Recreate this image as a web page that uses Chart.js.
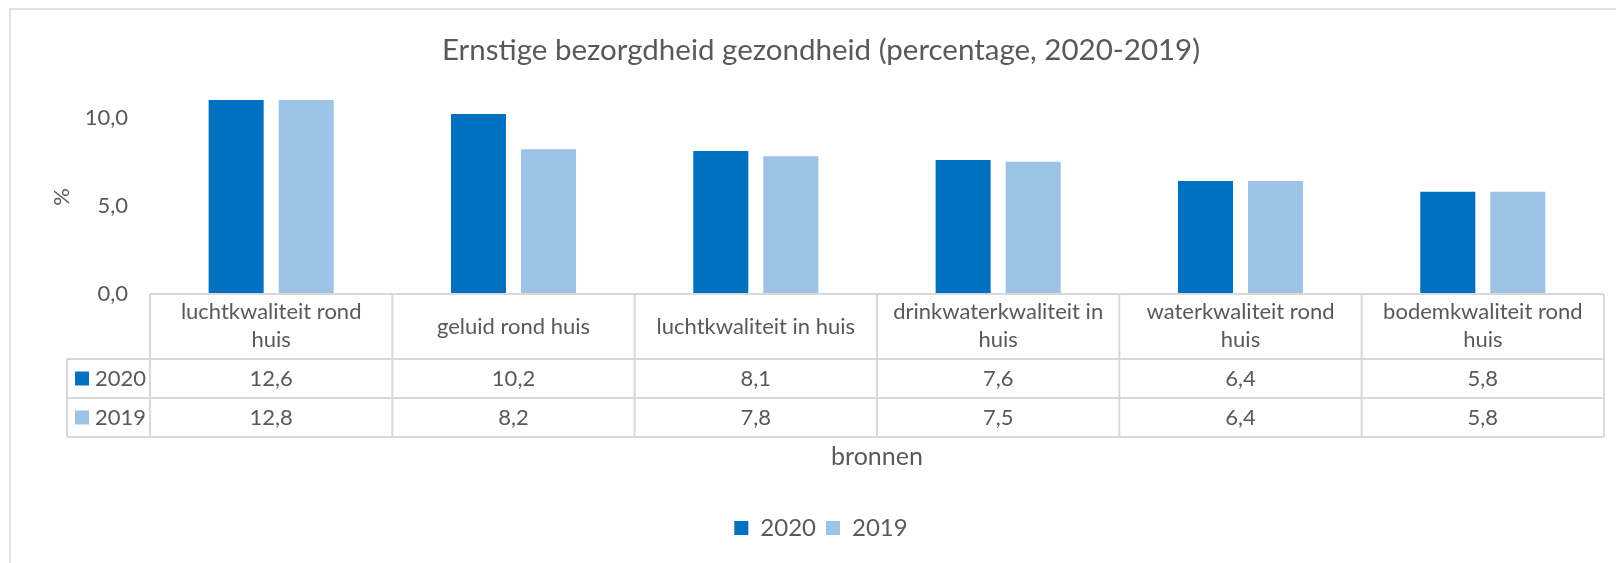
<!DOCTYPE html>
<html lang="nl">
<head>
<meta charset="UTF-8">
<title>Ernstige bezorgdheid gezondheid</title>
<script src="https://cdn.jsdelivr.net/npm/chart.js"></script>
<style>
  html, body { margin: 0; padding: 0; background: #fff; }
  canvas { display: block; }
</style>
</head>
<body>
<canvas id="grafiek" width="1616" height="563"></canvas>

<script>
// gegevens
const categorieen = [
    ['luchtkwaliteit rond', 'huis'],
    ['geluid rond huis'],
    ['luchtkwaliteit in huis'],
    ['drinkwaterkwaliteit in', 'huis'],
    ['waterkwaliteit rond', 'huis'],
    ['bodemkwaliteit rond', 'huis']
];
const jaren = ['2020', '2019'];
const waarden2020 = [12.6, 10.2, 8.1, 7.6, 6.4, 5.8];
const waarden2019 = [12.8, 8.2, 7.8, 7.5, 6.4, 5.8];
const yTicks = [0, 5, 10];
const yMax = 11;

const kleuren = ['#0070C0', '#9DC3E6'];
const tekstKleur = '#595959';
const lijnKleur = '#d9d9d9';
const lettertype = 'Lato, "Liberation Sans", sans-serif';

function komma(v) {
    return Number(v).toFixed(1).replace('.', ',');
}

// tekent de gegevenstabel onder de grafiek + de kaderlijnen
const tabelPlugin = {
    id: 'gegevenstabel',
    beforeDraw(chart) {
        const ctx = chart.ctx;
        ctx.save();
        ctx.strokeStyle = lijnKleur;
        ctx.lineWidth = 1.5;
        ctx.beginPath();
        ctx.moveTo(10, chart.height);
        ctx.lineTo(10, 9);
        ctx.lineTo(chart.width, 9);
        ctx.stroke();
        ctx.restore();
    },
    afterDraw(chart) {
        const { ctx, chartArea } = chart;
        const x = chart.scales.x;
        const n = chart.data.labels.length;
        const breedte = (x.right - x.left) / n;
        const kopTop = chartArea.bottom;
        const kopH = 65;
        const rijH = 39;
        const legLinks = 67;
        const onder = kopTop + kopH + rijH * chart.data.datasets.length;

        ctx.save();
        ctx.strokeStyle = lijnKleur;
        ctx.lineWidth = 2;
        ctx.beginPath();
        ctx.moveTo(x.left, kopTop);
        ctx.lineTo(x.right, kopTop);
        for (let r = 0; r <= chart.data.datasets.length; r++) {
            const y = kopTop + kopH + r * rijH;
            ctx.moveTo(legLinks, y);
            ctx.lineTo(x.right, y);
        }
        for (let i = 0; i <= n; i++) {
            const xx = x.left + i * breedte;
            ctx.moveTo(xx, kopTop);
            ctx.lineTo(xx, onder);
        }
        ctx.moveTo(legLinks, kopTop + kopH);
        ctx.lineTo(legLinks, onder);
        ctx.stroke();

        ctx.fillStyle = tekstKleur;
        ctx.font = '22px ' + lettertype;
        ctx.textAlign = 'center';
        ctx.textBaseline = 'middle';

        chart.data.labels.forEach((label, i) => {
            const cx = x.getPixelForValue(i);
            const regels = Array.isArray(label) ? label : [label];
            if (regels.length === 1) {
                ctx.fillText(regels[0], cx, kopTop + kopH / 2);
            } else {
                ctx.fillText(regels[0], cx, kopTop + 18);
                ctx.fillText(regels[1], cx, kopTop + 46);
            }
        });

        chart.data.datasets.forEach((ds, r) => {
            const cy = kopTop + kopH + r * rijH + rijH / 2;
            ctx.fillStyle = ds.backgroundColor;
            ctx.fillRect(75, cy - 7, 14, 14);
            ctx.fillStyle = tekstKleur;
            ctx.textAlign = 'left';
            ctx.fillText(ds.label, 95, cy);
            ctx.textAlign = 'center';
            ds.data.forEach((v, i) => {
                ctx.fillText(komma(v), x.getPixelForValue(i), cy);
            });
        });
        ctx.restore();
    }
};

const config = {
    type: 'bar',
    data: {
        labels: categorieen,
        datasets: [
            {
                label: jaren[0],
                data: waarden2020,
                backgroundColor: kleuren[0],
                borderWidth: 0,
                categoryPercentage: 0.578,
                barPercentage: 0.786
            },
            {
                label: jaren[1],
                data: waarden2019,
                backgroundColor: kleuren[1],
                borderWidth: 0,
                categoryPercentage: 0.578,
                barPercentage: 0.786
            }
        ]
    },
    options: {
        responsive: false,
        animation: false,
        layout: {
            padding: { top: 0, left: 38, right: 12, bottom: 13 }
        },
        plugins: {
            title: {
                display: true,
                text: 'Ernstige bezorgdheid gezondheid (percentage, 2020-2019)',
                color: tekstKleur,
                font: { family: lettertype, size: 29.5, weight: 'normal' },
                padding: { top: 33, bottom: 31.5 }
            },
            legend: {
                position: 'bottom',
                labels: {
                    boxWidth: 14,
                    boxHeight: 14,
                    padding: 10,
                    color: tekstKleur,
                    font: { family: lettertype, size: 24 }
                }
            },
            tooltip: { enabled: false }
        },
        scales: {
            x: {
                grid: { display: false, drawTicks: false },
                border: { display: false },
                ticks: { display: false },
                title: {
                    display: true,
                    text: 'bronnen',
                    color: tekstKleur,
                    font: { family: lettertype, size: 25 },
                    padding: { top: 0, bottom: 34 }
                },
                afterFit(scale) {
                    scale.height = 212;
                }
            },
            y: {
                min: 0,
                max: yMax,
                afterBuildTicks(scale) {
                    scale.ticks = yTicks.map(v => ({ value: v }));
                },
                grid: { display: false, drawTicks: false },
                border: { display: false },
                ticks: {
                    padding: 22,
                    color: tekstKleur,
                    font: { family: lettertype, size: 22 },
                    callback: v => komma(v)
                },
                title: {
                    display: true,
                    text: '%',
                    color: tekstKleur,
                    font: { family: lettertype, size: 22 },
                    padding: { top: 11, bottom: 0 }
                },
                afterFit(scale) {
                    scale.width = 112;
                }
            }
        }
    },
    plugins: [tabelPlugin]
};

new Chart(document.getElementById('grafiek'), config);
</script>
</body>
</html>
